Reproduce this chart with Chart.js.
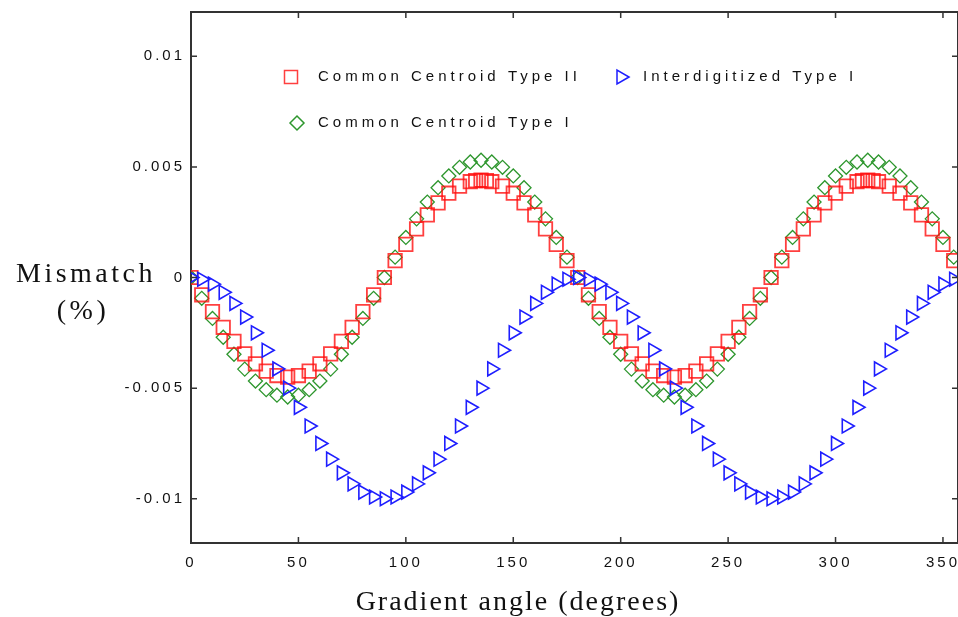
<!DOCTYPE html>
<html>
<head>
<meta charset="utf-8">
<script src="https://cdn.jsdelivr.net/npm/chart.js@4/dist/chart.umd.min.js"></script>
<style>
  html, body { margin: 0; padding: 0; background: #fff; }
  canvas { display: block; }
</style>
</head>
<body>
<canvas id="mismatchChart" width="958" height="617"></canvas>
<script>
// angles (degrees) for the Common Centroid Type II squares (denser at the peaks)
const anglesII = [
  0, 5, 10, 15, 20, 25, 30, 35, 40, 45, 50, 55, 60, 65, 70, 75, 80, 85,
  90, 95, 100, 105, 110, 115, 120, 125, 130, 132.5, 135, 137.5, 140, 145, 150, 155, 160, 165, 170, 175,
  180, 185, 190, 195, 200, 205, 210, 215, 220, 225, 230, 235, 240, 245, 250, 255, 260, 265,
  270, 275, 280, 285, 290, 295, 300, 305, 310, 312.5, 315, 317.5, 320, 325, 330, 335, 340, 345, 350, 355
];
const commonCentroidII = [
  0, -0.00078, -0.00154, -0.00225, -0.00289, -0.00345, -0.0039, -0.00423, -0.00443, -0.0045, -0.00443, -0.00423, -0.0039, -0.00345, -0.00289, -0.00225, -0.00154, -0.00078,
  0, 0.00076, 0.0015, 0.0022, 0.00283, 0.00337, 0.00381, 0.00413, 0.00433, 0.00438, 0.0044, 0.00438, 0.00433, 0.00413, 0.00381, 0.00337, 0.00283, 0.0022, 0.0015, 0.00076,
  0, -0.00078, -0.00154, -0.00225, -0.00289, -0.00345, -0.0039, -0.00423, -0.00443, -0.0045, -0.00443, -0.00423, -0.0039, -0.00345, -0.00289, -0.00225, -0.00154, -0.00078,
  0, 0.00076, 0.0015, 0.0022, 0.00283, 0.00337, 0.00381, 0.00413, 0.00433, 0.00438, 0.0044, 0.00438, 0.00433, 0.00413, 0.00381, 0.00337, 0.00283, 0.0022, 0.0015, 0.00076
];

// angles (degrees) for the other two series
const angles = [
  0, 5, 10, 15, 20, 25, 30, 35, 40, 45, 50, 55, 60, 65, 70, 75, 80, 85,
  90, 95, 100, 105, 110, 115, 120, 125, 130, 135, 140, 145, 150, 155, 160, 165, 170, 175,
  180, 185, 190, 195, 200, 205, 210, 215, 220, 225, 230, 235, 240, 245, 250, 255, 260, 265,
  270, 275, 280, 285, 290, 295, 300, 305, 310, 315, 320, 325, 330, 335, 340, 345, 350, 355
];
const commonCentroidI = [
  0, -0.00094, -0.00185, -0.0027, -0.00347, -0.00414, -0.00468, -0.00507, -0.00532, -0.0054, -0.00532, -0.00507, -0.00468, -0.00414, -0.00347, -0.0027, -0.00185, -0.00094,
  0, 0.00092, 0.00181, 0.00265, 0.00341, 0.00406, 0.00459, 0.00498, 0.00522, 0.0053, 0.00522, 0.00498, 0.00459, 0.00406, 0.00341, 0.00265, 0.00181, 0.00092,
  0, -0.00094, -0.00185, -0.0027, -0.00347, -0.00414, -0.00468, -0.00507, -0.00532, -0.0054, -0.00532, -0.00507, -0.00468, -0.00414, -0.00347, -0.0027, -0.00185, -0.00094,
  0, 0.00092, 0.00181, 0.00265, 0.00341, 0.00406, 0.00459, 0.00498, 0.00522, 0.0053, 0.00522, 0.00498, 0.00459, 0.00406, 0.00341, 0.00265, 0.00181, 0.00092
];
const interdigitized = [
  0, -0.00008, -0.0003, -0.00067, -0.00117, -0.00179, -0.0025, -0.00329, -0.00413, -0.005, -0.00587, -0.00671, -0.0075, -0.00821, -0.00883, -0.00933, -0.0097, -0.00992,
  -0.01, -0.00992, -0.0097, -0.00933, -0.00883, -0.00821, -0.0075, -0.00671, -0.00587, -0.005, -0.00413, -0.00329, -0.0025, -0.00179, -0.00117, -0.00067, -0.0003, -0.00008,
  0, -0.00008, -0.0003, -0.00067, -0.00117, -0.00179, -0.0025, -0.00329, -0.00413, -0.005, -0.00587, -0.00671, -0.0075, -0.00821, -0.00883, -0.00933, -0.0097, -0.00992,
  -0.01, -0.00992, -0.0097, -0.00933, -0.00883, -0.00821, -0.0075, -0.00671, -0.00587, -0.005, -0.00413, -0.00329, -0.0025, -0.00179, -0.00117, -0.00067, -0.0003, -0.00008
];

const xTicks = [0, 50, 100, 150, 200, 250, 300, 350];
const yTicks = [-0.01, -0.005, 0, 0.005, 0.01];
const yTickLabels = ['-0.01', '-0.005', '0', '0.005', '0.01'];

const RED = 'rgba(255, 15, 15, 0.8)';
const GREEN = 'rgb(45, 150, 45)';
const BLUE = 'rgb(30, 30, 255)';
const SANS = '"Liberation Sans", Arial, sans-serif';
const SERIF = '"Liberation Serif", "Times New Roman", serif';

const toPoints = (xs, ys) => xs.map((v, i) => ({ x: v, y: ys[i] }));

// frame, inward ticks, legend and axis titles
const decorations = {
    id: 'decorations',
    beforeDraw(chart) {
        chart.ctx.letterSpacing = '3px';
    },
    afterDraw(chart) {
        const ctx = chart.ctx;
        const a = chart.chartArea;
        const x = chart.scales.x;
        const y = chart.scales.y;
        ctx.save();
        ctx.letterSpacing = '0px';

        ctx.strokeStyle = '#333';
        ctx.lineWidth = 2;
        ctx.beginPath();
        ctx.moveTo(a.left, a.top);
        ctx.lineTo(a.right, a.top);
        ctx.lineTo(a.right, a.bottom);
        ctx.stroke();

        ctx.lineWidth = 1.5;
        ctx.beginPath();
        xTicks.forEach(v => {
            const px = x.getPixelForValue(v);
            ctx.moveTo(px, a.bottom); ctx.lineTo(px, a.bottom - 6);
            ctx.moveTo(px, a.top); ctx.lineTo(px, a.top + 6);
        });
        yTicks.forEach(v => {
            const py = y.getPixelForValue(v);
            ctx.moveTo(a.left, py); ctx.lineTo(a.left + 6, py);
            ctx.moveTo(a.right, py); ctx.lineTo(a.right - 6, py);
        });
        ctx.stroke();

        // legend
        const items = [
            { style: 'rect', rot: 0, r: 9.2, color: RED, mx: 291, tx: 318, y: 77, text: 'Common Centroid Type II' },
            { style: 'triangle', rot: 90, r: 8, color: BLUE, mx: 621, tx: 643, y: 77, text: 'Interdigitized Type I' },
            { style: 'rectRot', rot: 0, r: 7, color: GREEN, mx: 297, tx: 318, y: 123, text: 'Common Centroid Type I' }
        ];
        items.forEach(it => {
            ctx.strokeStyle = it.color;
            ctx.fillStyle = 'rgba(0,0,0,0)';
            Chart.helpers.drawPoint(ctx, { pointStyle: it.style, rotation: it.rot, radius: it.r, borderWidth: 1.8 }, it.mx, it.y);
            ctx.fillStyle = '#111';
            ctx.font = '15px ' + SANS;
            ctx.letterSpacing = '4px';
            ctx.textAlign = 'left';
            ctx.textBaseline = 'middle';
            ctx.fillText(it.text, it.tx, it.y);
        });

        // axis titles
        ctx.fillStyle = '#111';
        ctx.font = '28px ' + SERIF;
        ctx.letterSpacing = '2px';
        ctx.textAlign = 'center';
        ctx.textBaseline = 'middle';
        ctx.fillText('Gradient angle (degrees)', 518, 603);
        ctx.letterSpacing = '3.5px';
        ctx.fillText('Mismatch', 86, 275);
        ctx.fillText('(%)', 83, 312);
        ctx.restore();
    }
};

const canvas = document.getElementById('mismatchChart').getContext('2d');

const mismatchChart = new Chart(canvas, {
    type: 'scatter',
    data: {
        datasets: [
            {
                label: 'Interdigitized Type I',
                data: toPoints(angles, interdigitized),
                pointStyle: 'triangle',
                rotation: 90,
                pointRadius: 8,
                borderColor: BLUE,
                pointBorderColor: BLUE,
                pointBackgroundColor: 'rgba(0,0,0,0)',
                pointBorderWidth: 1.6,
                order: 0
            },
            {
                label: 'Common Centroid Type II',
                data: toPoints(anglesII, commonCentroidII),
                pointStyle: 'rect',
                pointRadius: 9.5,
                borderColor: RED,
                pointBorderColor: RED,
                pointBackgroundColor: 'rgba(0,0,0,0)',
                pointBorderWidth: 1.8,
                order: 1
            },
            {
                label: 'Common Centroid Type I',
                data: toPoints(angles, commonCentroidI),
                pointStyle: 'rectRot',
                pointRadius: 7,
                borderColor: GREEN,
                pointBorderColor: GREEN,
                pointBackgroundColor: 'rgba(0,0,0,0)',
                pointBorderWidth: 1.3,
                order: 2
            }
        ]
    },
    options: {
        responsive: false,
        animation: false,
        layout: { autoPadding: false, padding: { top: 12, left: 0, right: 0, bottom: 0 } },
        scales: {
            x: {
                type: 'linear',
                min: 0,
                max: 357,
                afterFit: s => { s.height = 74; s.paddingLeft = 0; s.paddingRight = 0; },
                afterBuildTicks: s => { s.ticks = xTicks.map(v => ({ value: v })); },
                grid: { display: false, drawTicks: false },
                border: { display: true, color: '#333', width: 2 },
                ticks: {
                    color: '#111',
                    padding: 11,
                    maxRotation: 0,
                    font: { family: SANS, size: 15 }
                }
            },
            y: {
                type: 'linear',
                min: -0.012,
                max: 0.012,
                afterFit: s => { s.width = 191; s.paddingTop = 0; s.paddingBottom = 0; },
                afterBuildTicks: s => { s.ticks = yTicks.map(v => ({ value: v })); },
                grid: { display: false, drawTicks: false },
                border: { display: true, color: '#333', width: 2 },
                ticks: {
                    color: '#111',
                    padding: 6,
                    font: { family: SANS, size: 15 },
                    callback: v => yTickLabels[yTicks.indexOf(v)] ?? ''
                }
            }
        },
        plugins: {
            legend: { display: false },
            tooltip: { enabled: false }
        }
    },
    plugins: [decorations]
});
</script>
</body>
</html>
